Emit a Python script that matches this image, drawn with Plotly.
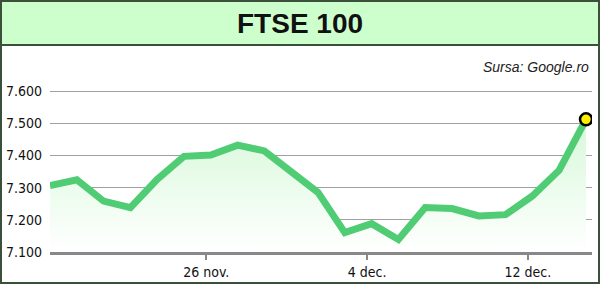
import plotly.graph_objects as go

dates = ["18 nov.", "19 nov.", "20 nov.", "21 nov.", "22 nov.", "25 nov.", "26 nov.",
         "27 nov.", "28 nov.", "29 nov.", "2 dec.", "3 dec.", "4 dec.", "5 dec.",
         "6 dec.", "9 dec.", "10 dec.", "11 dec.", "12 dec.", "13 dec.", "16 dec."]
values = [7306, 7324, 7258, 7238, 7326, 7397, 7401, 7432, 7414, 7348, 7285,
          7160, 7188, 7139, 7238, 7235, 7212, 7216, 7274, 7354, 7512]
tick_labels = ["26 nov.", "4 dec.", "12 dec."]
y_ticks = [7100, 7200, 7300, 7400, 7500, 7600]
y_tick_text = ["7.100", "7.200", "7.300", "7.400", "7.500", "7.600"]

W, H = 600, 284
L, R, T, B = 50, 8, 60, 32
PW, PH = W - L - R, H - T - B

def px(x):
    return (x - L) / PW

def py(y):
    return (H - B - y) / PH

xs = list(range(len(values)))
tick_pos = [dates.index(t) - 0.17 for t in tick_labels]

GREEN = "#50cc74"
TICKFONT = dict(family="DejaVu Sans Condensed, Liberation Sans Narrow, Liberation Sans, sans-serif",
                size=14, color="#111111")

fig = go.Figure()
fig.add_trace(go.Scatter(
    x=xs, y=values, mode="lines",
    line=dict(color=GREEN, width=7),
    fill="tozeroy",
    fillgradient=dict(type="vertical",
                      colorscale=[[0, "rgba(255,255,255,1)"], [1, "rgba(214,248,216,1)"]],
                      start=7100, stop=7520),
    hoverinfo="skip",
))
fig.add_trace(go.Scatter(
    x=[xs[-1]], y=[values[-1]], mode="markers",
    marker=dict(color="#ffee00", size=12, line=dict(color="#000000", width=2.5)),
    hoverinfo="skip",
))

fig.update_layout(
    width=W, height=H,
    margin=dict(l=L, r=R, t=T, b=B, autoexpand=False),
    paper_bgcolor="white", plot_bgcolor="white",
    showlegend=False,
    xaxis=dict(range=[0, (PW) / 26.8], showgrid=False, zeroline=False, automargin=False,
               tickmode="array", tickvals=tick_pos, ticktext=tick_labels,
               ticks="outside", ticklen=5, tickwidth=2, tickcolor="#888888",
               showline=True, linecolor="#888888", linewidth=3,
               tickfont=TICKFONT),
    yaxis=dict(range=[7100, 7100 + PH / 0.322], showgrid=True, gridcolor="#a0a0a0",
               gridwidth=1, zeroline=False, automargin=False,
               tickmode="array", tickvals=y_ticks,
               ticktext=y_tick_text, ticks="", ticklabelstandoff=7,
               tickfont=TICKFONT),
    shapes=[
        dict(type="rect", xref="paper", yref="paper", layer="below",
             x0=px(0), x1=px(W), y0=py(45), y1=py(0),
             fillcolor="#ccffcc", line=dict(color="#3b503b", width=2)),
        dict(type="rect", xref="paper", yref="paper",
             x0=px(1), x1=px(W - 1), y0=py(H - 1), y1=py(1),
             fillcolor="rgba(0,0,0,0)", line=dict(color="#3b503b", width=2)),
    ],
    annotations=[
        dict(text="<b>FTSE 100</b>", xref="paper", yref="paper", x=px(300), y=py(23),
             xanchor="center", yanchor="middle", showarrow=False,
             font=dict(family="Liberation Sans, Arial, sans-serif", size=28, color="#111111")),
        dict(text="<i>Sursa: Google.ro</i>", xref="paper", yref="paper", x=px(591), y=py(67),
             xanchor="right", yanchor="middle", showarrow=False,
             font=dict(family="Liberation Sans, Arial, sans-serif", size=14, color="#222222")),
    ],
)

fig.write_html("out.html")
